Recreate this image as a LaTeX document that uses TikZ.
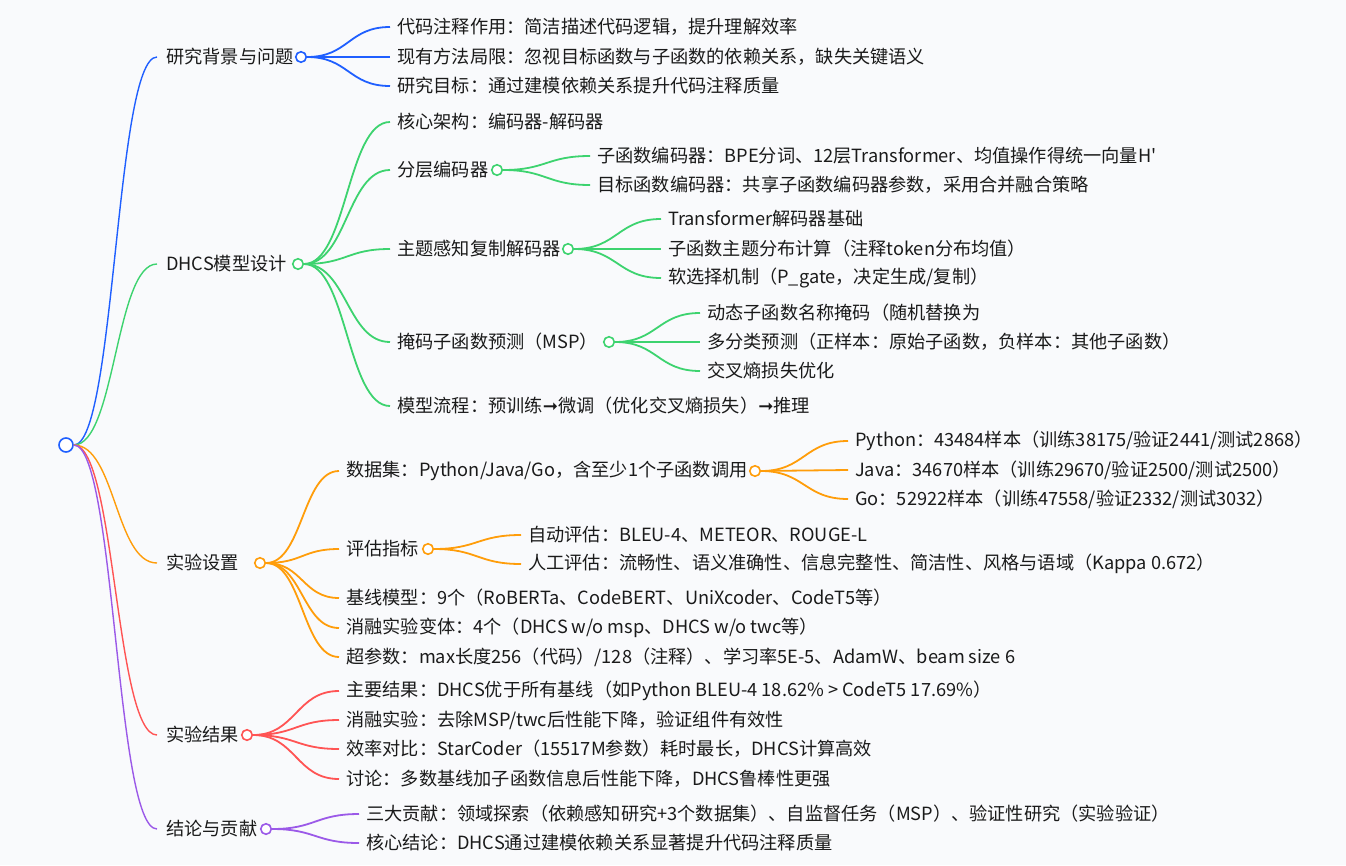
\documentclass[tikz,border=0pt]{standalone}
\usepackage{fontspec}
\setmainfont{Noto Sans CJK SC}
\newfontfamily\arrowfont{DejaVu Sans}
\usetikzlibrary{calc}
\definecolor{bg}{HTML}{F9FAFC}
\definecolor{cblue}{HTML}{1F5FFF}
\definecolor{cgreen}{HTML}{3DD36F}
\definecolor{corange}{HTML}{FF9D0A}
\definecolor{cred}{HTML}{FF5454}
\definecolor{cpurple}{HTML}{9B59E8}
\definecolor{ctext}{HTML}{1A1A1A}
\newcommand\mmlink[4][1.8pt]{\draw[#2,line width=#1] let \p1=(#3.east),\p2=(#4.west) in (\p1) .. controls ({0.5*\x1+0.5*\x2},\y1) and ({0.5*\x1+0.5*\x2},\y2) .. (\p2);}
\newcommand\arr{{\arrowfont\bfseries ➞}}
\begin{document}
\begin{tikzpicture}[x=1pt,y=-1pt,
  font=\fontsize{18.2}{21}\selectfont,
  txt/.style={anchor=west, inner xsep=7pt, inner ysep=0pt, text=ctext},
  lone/.style={txt, inner xsep=9pt},
  dot/.style={circle, draw=#1, fill=white, line width=1.6pt, minimum size=10.5pt, inner sep=0pt}]
\fill[bg] (0,0) rectangle (1346,865);
\useasboundingbox (0,0) rectangle (1346,865);
% root
\node[dot=cblue, minimum size=14pt] (r) at (66,445) {};
% level 1
\node[lone] (a) at (157,57) {研究背景与问题};
\node[dot=cblue] (ac) at (301,57) {};
\node[lone] (b) at (157,264) {DHCS模型设计};
\node[dot=cgreen] (bc) at (298,264) {};
\node[lone] (c) at (157,563) {实验设置};
\node[dot=corange] (cc) at (260,563) {};
\node[lone] (d) at (157,735) {实验结果};
\node[dot=cred] (dc) at (247,735) {};
\node[lone] (e) at (157,829) {结论与贡献};
\node[dot=cpurple] (ec) at (266,829) {};
% level 2 - a
\node[txt] (a1) at (390,27) {代码注释作用：简洁描述代码逻辑，提升理解效率};
\node[txt] (a2) at (390,57) {现有方法局限：忽视目标函数与子函数的依赖关系，缺失关键语义};
\node[txt] (a3) at (390,86) {研究目标：通过建模依赖关系提升代码注释质量};
% level 2 - b
\node[txt] (b1) at (390,122) {核心架构：编码器-解码器};
\node[txt] (b2) at (390,170) {分层编码器};
\node[dot=cgreen] (b2c) at (497,170) {};
\node[txt] (b3) at (390,249) {主题感知复制解码器};
\node[dot=cgreen] (b3c) at (568,249) {};
\node[txt] (b4) at (390,342) {掩码子函数预测（MSP）};
\node[dot=cgreen] (b4c) at (609,342) {};
\node[txt] (b5) at (390,406) {模型流程：预训练\arr 微调（优化交叉熵损失）\arr 推理};
\node[txt] (b21) at (590,156) {子函数编码器：BPE分词、12层Transformer、均值操作得统一向量H\textquotesingle};
\node[txt] (b22) at (590,185) {目标函数编码器：共享子函数编码器参数，采用合并融合策略};
\node[txt] (b31) at (661,219) {Transformer解码器基础};
\node[txt] (b32) at (661,249) {子函数主题分布计算（注释token分布均值）};
\node[txt] (b33) at (661,278) {软选择机制（P\_gate，决定生成/复制）};
\node[txt] (b41) at (700,313) {动态子函数名称掩码（随机替换为};
\node[txt] (b42) at (700,342) {多分类预测（正样本：原始子函数，负样本：其他子函数）};
\node[txt] (b43) at (700,371) {交叉熵损失优化};
% level 2 - c
\node[txt] (c1) at (339,471) {数据集：Python/Java/Go，含至少1个子函数调用};
\node[dot=corange] (c1c) at (755,471) {};
\node[txt] (c2) at (339,549) {评估指标};
\node[dot=corange] (c2c) at (428,549) {};
\node[txt] (c3) at (339,598) {基线模型：9个（RoBERTa、CodeBERT、UniXcoder、CodeT5等）};
\node[txt] (c4) at (339,628) {消融实验变体：4个（DHCS w/o msp、DHCS w/o twc等）};
\node[txt] (c5) at (339,657) {超参数：max长度256（代码）/128（注释）、学习率5E-5、AdamW、beam size 6};
\node[txt] (c11) at (848,441) {Python：43484样本（训练38175/验证2441/测试2868）};
\node[txt] (c12) at (848,470) {Java：34670样本（训练29670/验证2500/测试2500）};
\node[txt] (c13) at (848,499) {Go：52922样本（训练47558/验证2332/测试3032）};
\node[txt] (c21) at (521,535) {自动评估：BLEU-4、METEOR、ROUGE-L};
\node[txt] (c22) at (521,564) {人工评估：流畅性、语义准确性、信息完整性、简洁性、风格与语域（Kappa 0.672）};
% level 2 - d
\node[txt] (d1) at (339,691) {主要结果：DHCS优于所有基线（如Python BLEU-4 18.62\% > CodeT5 17.69\%）};
\node[txt] (d2) at (339,720) {消融实验：去除MSP/twc后性能下降，验证组件有效性};
\node[txt] (d3) at (339,749) {效率对比：StarCoder（15517M参数）耗时最长，DHCS计算高效};
\node[txt] (d4) at (339,779) {讨论：多数基线加子函数信息后性能下降，DHCS鲁棒性更强};
% level 2 - e
\node[txt] (e1) at (359,814) {三大贡献：领域探索（依赖感知研究+3个数据集）、自监督任务（MSP）、验证性研究（实验验证）};
\node[txt] (e2) at (359,843) {核心结论：DHCS通过建模依赖关系显著提升代码注释质量};
% links from root
\mmlink[1.4pt]{cblue}{r}{a}
\mmlink[1.4pt]{cgreen}{r}{b}
\mmlink[1.4pt]{corange}{r}{c}
\mmlink[1.4pt]{cred}{r}{d}
\mmlink[1.4pt]{cpurple}{r}{e}
% blue
\mmlink{cblue}{ac}{a1}
\mmlink{cblue}{ac}{a2}
\mmlink{cblue}{ac}{a3}
% green
\mmlink{cgreen}{bc}{b1}
\mmlink{cgreen}{bc}{b2}
\mmlink{cgreen}{bc}{b3}
\mmlink{cgreen}{bc}{b4}
\mmlink{cgreen}{bc}{b5}
\mmlink{cgreen}{b2c}{b21}
\mmlink{cgreen}{b2c}{b22}
\mmlink{cgreen}{b3c}{b31}
\mmlink{cgreen}{b3c}{b32}
\mmlink{cgreen}{b3c}{b33}
\mmlink{cgreen}{b4c}{b41}
\mmlink{cgreen}{b4c}{b42}
\mmlink{cgreen}{b4c}{b43}
% orange
\mmlink{corange}{cc}{c1}
\mmlink{corange}{cc}{c2}
\mmlink{corange}{cc}{c3}
\mmlink{corange}{cc}{c4}
\mmlink{corange}{cc}{c5}
\mmlink{corange}{c1c}{c11}
\mmlink{corange}{c1c}{c12}
\mmlink{corange}{c1c}{c13}
\mmlink{corange}{c2c}{c21}
\mmlink{corange}{c2c}{c22}
% red
\mmlink{cred}{dc}{d1}
\mmlink{cred}{dc}{d2}
\mmlink{cred}{dc}{d3}
\mmlink{cred}{dc}{d4}
% purple
\mmlink{cpurple}{ec}{e1}
\mmlink{cpurple}{ec}{e2}
\end{tikzpicture}
\end{document}
